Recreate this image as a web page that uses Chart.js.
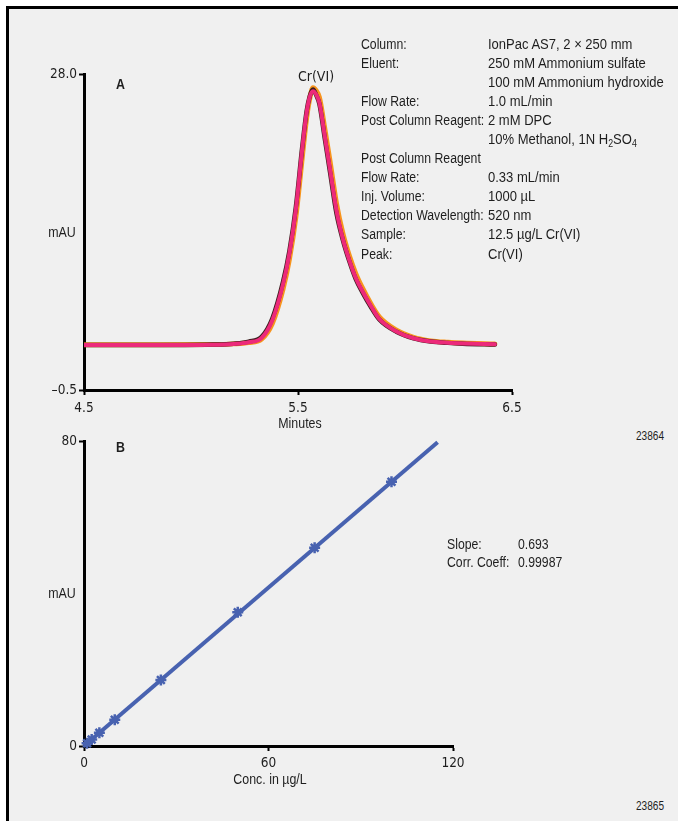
<!DOCTYPE html>
<html>
<head>
<meta charset="utf-8">
<script src="https://cdn.jsdelivr.net/npm/chart.js@4.4.1/dist/chart.umd.min.js"></script>
<style>
  html, body { margin: 0; padding: 0; background: #ffffff; }
  body { width: 678px; height: 821px; position: relative; overflow: hidden;
         font-family: "Liberation Sans", Arial, sans-serif; color: #1e1e1e; }
  #frame { position: absolute; left: 6px; top: 6px; right: 0; bottom: 0;
           border-left: 3px solid #000; border-top: 3px solid #000; background: #f0f0f0; }
  canvas { position: absolute; left: 0; }
  .t { position: absolute; font-size: 15.5px; line-height: 19px; white-space: nowrap;
       transform: scaleX(0.8); transform-origin: 0 0; }
  .c { transform: translateX(-50%) scaleX(0.8); transform-origin: 50% 0; }
  .panel { font-weight: bold; font-size: 15.5px; }
  .code { font-size: 12px; transform: scaleX(0.84); }
  .col { position: absolute; top: 33.5px; font-size: 15.5px; line-height: 19.1px;
         white-space: nowrap; transform-origin: 0 0; }
  #infoLabels { left: 361px; transform: scaleX(0.79); }
  #infoValues { left: 488px; transform: scaleX(0.84); }
  .col sub { font-size: 10.5px; vertical-align: -3px; line-height: 0; }
  #stats { position: absolute; left: 447px; top: 534.5px; font-size: 15.5px; line-height: 18.7px;
           display: grid; grid-template-columns: 89.9px auto; white-space: nowrap;
           transform: scaleX(0.79); transform-origin: 0 0; }
</style>
</head>
<body>
<div id="frame"></div>
<canvas id="chromatogram" width="540" height="440" style="top:0px"></canvas>
<canvas id="calibration" width="540" height="360" style="top:430px"></canvas>

<div class="t panel" style="left:116px; top:74px;">A</div>
<div class="t panel" style="left:116px; top:437px;">B</div>
<div class="t c" style="left:62px; top:222px;">mAU</div>
<div class="t c" style="left:62px; top:583px;">mAU</div>
<div class="t c" style="left:300px; top:413px;">Minutes</div>
<div class="t c" style="left:270px; top:769px;">Conc. in µg/L</div>
<div class="t code" style="left:636px; top:427px;">23864</div>
<div class="t code" style="left:636px; top:797px;">23865</div>

<div id="infoLabels" class="col">
  <div>Column:</div>
  <div>Eluent:</div>
  <div>&nbsp;</div>
  <div>Flow Rate:</div>
  <div>Post Column Reagent:</div>
  <div>&nbsp;</div>
  <div>Post Column Reagent</div>
  <div>Flow Rate:</div>
  <div>Inj. Volume:</div>
  <div>Detection Wavelength:</div>
  <div>Sample:</div>
  <div>Peak:</div>
</div>
<div id="infoValues" class="col">
  <div>IonPac AS7, 2 × 250 mm</div>
  <div>250 mM Ammonium sulfate</div>
  <div>100 mM Ammonium hydroxide</div>
  <div>1.0 mL/min</div>
  <div>2 mM DPC</div>
  <div>10% Methanol, 1N H<sub>2</sub>SO<sub>4</sub></div>
  <div>&nbsp;</div>
  <div>0.33 mL/min</div>
  <div>1000 µL</div>
  <div>520 nm</div>
  <div>12.5 µg/L Cr(VI)</div>
  <div>Cr(VI)</div>
</div>

<div id="stats">
  <div>Slope:</div><div id="slopeText"></div>
  <div>Corr. Coeff:</div><div id="corrText"></div>
</div>

<script>
// ---- Chromatogram (panel A): three overlaid injections of 12.5 µg/L Cr(VI) ----
const minutes = [4.50, 4.80, 5.10, 5.20, 5.27, 5.33, 5.38, 5.43, 5.46, 5.49, 5.52, 5.54, 5.555, 5.57, 5.585,
                 5.60, 5.625, 5.65, 5.68, 5.71, 5.74, 5.77, 5.80, 5.84, 5.88, 5.96, 6.04, 6.12, 6.20, 6.27, 6.42];
const traceOrange = [3.58, 3.58, 3.60, 3.66, 3.78, 4.10, 5.50, 8.60, 11.3, 15.1, 20.5, 24.0, 25.8, 26.75, 26.5,
                     25.9, 23.1, 20.1, 16.3, 13.6, 11.6, 10.0, 8.75, 7.30, 6.10, 4.90, 4.25, 3.93, 3.80, 3.73, 3.65];
const traceDark   = [3.55, 3.55, 3.60, 3.68, 3.86, 4.30, 5.95, 9.25, 12.05, 16.0, 21.45, 24.6, 26.0, 26.6, 26.1,
                     25.3, 22.2, 19.1, 15.4, 13.0, 11.1, 9.50, 8.35, 7.00, 5.85, 4.75, 4.15, 3.87, 3.75, 3.68, 3.60];
const tracePink   = [3.55, 3.55, 3.58, 3.65, 3.80, 4.20, 5.80, 9.05, 11.85, 15.8, 21.3, 24.5, 25.95, 26.45, 26.15,
                     25.4, 22.4, 19.35, 15.65, 13.1, 11.2, 9.60, 8.45, 7.10, 5.90, 4.78, 4.17, 3.88, 3.76, 3.70, 3.62];
const xTicksA = [4.5, 5.5, 6.5];
const yTicksA = [-0.5, 28.0];
const peakName = 'Cr(VI)';

// ---- Calibration (panel B) ----
const concentrations = [1, 2.5, 5, 10, 25, 50, 75, 100];
const responses      = [0.7, 1.7, 3.5, 6.9, 17.3, 35.1, 52.0, 69.3];
const slope = 0.693;
const corrCoeff = 0.99987;
const fitRange = [0, 115];
const xTicksB = [0, 60, 120];
const yTicksB = [0, 80];

document.getElementById('slopeText').textContent = slope.toFixed(3);
document.getElementById('corrText').textContent = corrCoeff.toFixed(5);

const FONT = '"DejaVu Sans Condensed", "Liberation Sans", sans-serif';
const tickFont = { family: FONT, size: 13.5 };
const TEXT = '#1e1e1e';

function fmtSigned(v, d) {
  return (v < 0 ? '\u2013' + Math.abs(v).toFixed(d) : v.toFixed(d));
}

function axis(min, max, ticks, fmt, fit, pad) {
  return {
    type: 'linear', min, max,
    afterBuildTicks: s => { s.ticks = ticks.map(v => ({ value: v })); },
    afterFit: fit,
    ticks: { font: tickFont, color: TEXT, padding: pad, autoSkip: false, maxRotation: 0, callback: fmt },
    grid: { display: true, drawOnChartArea: false, drawTicks: true, tickLength: 5, tickWidth: 2, tickColor: '#000', color: '#000' },
    border: { display: true, color: '#000', width: 3 }
  };
}

const series = vals => minutes.map((t, i) => ({ x: t, y: vals[i] }));

const peakLabel = {
  id: 'peakLabel',
  afterDatasetsDraw(chart) {
    const xs = chart.scales.x, ys = chart.scales.y;
    let idx = 0;
    tracePink.forEach((v, i) => { if (v > tracePink[idx]) idx = i; });
    const top = Math.max(traceOrange[idx], traceDark[idx], tracePink[idx]);
    const ctx = chart.ctx;
    ctx.save();
    ctx.font = '14px ' + FONT;
    ctx.fillStyle = TEXT;
    ctx.textAlign = 'center';
    ctx.textBaseline = 'bottom';
    ctx.fillText(peakName, xs.getPixelForValue(minutes[idx]) + 3, ys.getPixelForValue(top) - 4);
    ctx.restore();
  }
};

new Chart(document.getElementById('chromatogram'), {
  type: 'line',
  data: {
    datasets: [
      { data: series(tracePink),   borderColor: '#ec2a7a', borderWidth: 4,   order: 1 },
      { data: series(traceDark),   borderColor: '#3b1d1d', borderWidth: 4.5, order: 2 },
      { data: series(traceOrange), borderColor: '#f7941d', borderWidth: 5,   order: 3 }
    ]
  },
  options: {
    responsive: false, animation: false, devicePixelRatio: 1,
    layout: { padding: { left: 44, top: 74, right: 28, bottom: 20 } },
    elements: { point: { radius: 0 }, line: { cubicInterpolationMode: 'monotone', borderCapStyle: 'round' } },
    plugins: { legend: { display: false }, tooltip: { enabled: false } },
    scales: {
      x: axis(4.5, 6.5, xTicksA, v => v.toFixed(1), s => { s.height = 30; }, 5),
      y: axis(-0.5, 28, yTicksA, v => fmtSigned(v, 1), s => { s.width = 40; }, 2)
    }
  },
  plugins: [peakLabel]
});

new Chart(document.getElementById('calibration'), {
  type: 'scatter',
  data: {
    datasets: [
      { type: 'line', data: fitRange.map(c => ({ x: c, y: slope * c })),
        borderColor: '#4862b0', borderWidth: 4, pointRadius: 0, order: 2 },
      { data: concentrations.map((c, i) => ({ x: c, y: responses[i] })),
        pointStyle: 'star', pointRadius: 5.5, borderWidth: 2.5,
        borderColor: '#4862b0', backgroundColor: '#4862b0', order: 1 }
    ]
  },
  options: {
    responsive: false, animation: false, devicePixelRatio: 1, clip: false,
    layout: { padding: { left: 44, top: 11, right: 87, bottom: 14 } },
    plugins: { legend: { display: false }, tooltip: { enabled: false } },
    scales: {
      x: axis(0, 120, xTicksB, v => String(v), s => { s.height = 30; }, 4),
      y: axis(0, 80, yTicksB, v => String(v), s => { s.width = 40; }, 2)
    }
  }
});
</script>
</body>
</html>
